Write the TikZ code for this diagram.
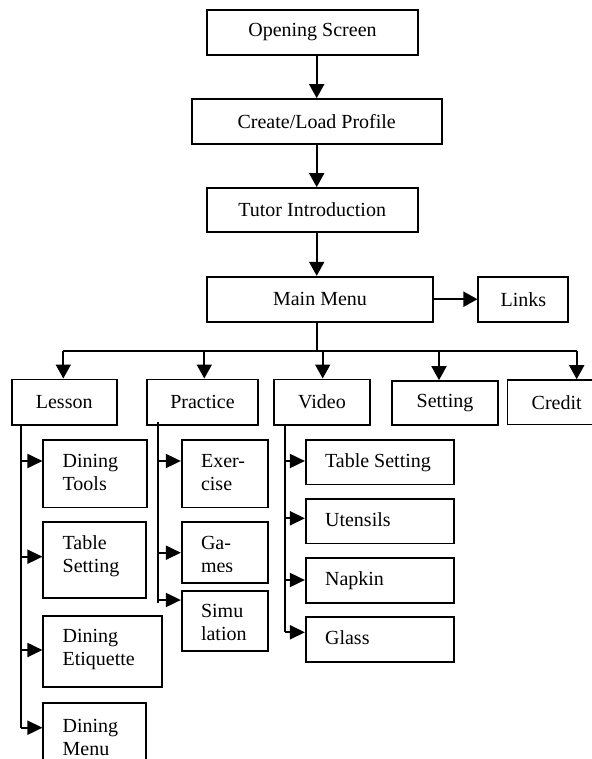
\documentclass[tikz,border=0pt]{standalone}
\usepackage{fontspec}
\setmainfont{Liberation Serif}
\usetikzlibrary{arrows.meta,calc}
\newcommand{\diafont}{\fontsize{20}{23}\selectfont}
\newcommand{\twol}[2]{\begin{tabular}[t]{@{}l@{}}#1\\#2\end{tabular}}
\begin{document}
\begin{tikzpicture}[x=1pt,y=-1pt,
  box/.style={draw, line width=1.7pt, inner sep=0pt, font=\diafont},
  ln/.style={line width=1.9pt},
  arr/.style={line width=1.9pt, -{Triangle[length=14pt,width=15pt]}},
  arrs/.style={line width=1.9pt, -{Triangle[length=15pt,width=14pt]}},
  lbl/.style={inner sep=0pt, anchor=base west, font=\diafont}]
\useasboundingbox (0,0) rectangle (591,759);
% top chain
\node[box, minimum width=211pt, minimum height=45pt] (open) at (312.5,32.5) {Opening Screen};
\node[box, minimum width=250pt, minimum height=45pt] (create) at (316.7,121.5) {Create/Load Profile};
\node[box, minimum width=211pt, minimum height=44pt] (tutor) at (312.2,210) {Tutor Introduction};
\node[box, minimum width=226.6pt, minimum height=45pt] (main) at (320,299.2) {Main Menu};
\node[box, minimum width=90pt, minimum height=45pt] (links) at (523.3,299.2) {Links};
% second level
\node[box, minimum width=105pt, minimum height=45.7pt] (lesson) at (64.2,402.2) {Lesson};
\node[box, minimum width=111.6pt, minimum height=45.7pt] (practice) at (202.5,402.2) {Practice};
\node[box, minimum width=96pt, minimum height=45.7pt] (video) at (322,402.2) {Video};
\node[box, minimum width=106.6pt, minimum height=44pt] (setting) at (445,403) {Setting};
\node[box, minimum width=98.7pt, minimum height=44.3pt] (credit) at (556.7,402.2) {Credit};
% lesson children
\node[box, minimum width=104pt, minimum height=67.3pt] (tools) at (95.3,473.7) {};
\node[box, minimum width=102.4pt, minimum height=75.4pt] (ltable) at (94.5,560) {};
\node[box, minimum width=119pt, minimum height=71.6pt] (etiq) at (102.8,651.5) {};
\node[box, minimum width=102.4pt, minimum height=77.4pt] (menu) at (94.5,741.4) {};
% practice children
\node[box, minimum width=86pt, minimum height=67.3pt] (exer) at (224.7,473.7) {};
\node[box, minimum width=86pt, minimum height=60.4pt] (games) at (224.7,552.5) {};
\node[box, minimum width=86pt, minimum height=60.3pt] (simu) at (224.7,620.9) {};
% video children
\node[box, minimum width=148.3pt, minimum height=44.3pt] (vtable) at (379.9,462.2) {};
\node[box, minimum width=148.3pt, minimum height=44.3pt] (uten) at (379.9,521.2) {};
\node[box, minimum width=148.3pt, minimum height=44.4pt] (napkin) at (379.9,580.5) {};
\node[box, minimum width=148.3pt, minimum height=44.4pt] (glass) at (379.9,639.5) {};
% labels of children
\node[lbl] (tools-t) at ($(tools.north west)+(20,28)$) {\twol{Dining}{Tools}};
\node[lbl] (ltable-t) at ($(ltable.north west)+(20,28)$) {\twol{Table}{Setting}};
\node[lbl] (etiq-t) at ($(etiq.north west)+(20,28)$) {\twol{Dining}{Etiquette}};
\begin{scope}
  \clip (40,700) rectangle (150,755);
  \node[lbl] (menu-t) at ($(menu.north west)+(20,31)$) {\twol{Dining}{Menu}};
\end{scope}
\node[lbl] (exer-t) at ($(exer.north west)+(20,28)$) {\twol{Exer-}{cise}};
\begin{scope}
  \clip (181.7,520) rectangle (267.7,571);
  \node[lbl] (games-t) at ($(games.north west)+(20,28)$) {\twol{Ga-}{mes}};
\end{scope}
\node[lbl] (simu-t) at ($(simu.north west)+(20,28)$) {\twol{Simu}{lation}};
\node[lbl] (vtable-t) at ($(vtable.north west)+(20,28.5)$) {Table Setting};
\node[lbl] (uten-t) at ($(uten.north west)+(20,28.5)$) {Utensils};
\node[lbl] (napkin-t) at ($(napkin.north west)+(20,28.5)$) {Napkin};
\node[lbl] (glass-t) at ($(glass.north west)+(20,28.5)$) {Glass};
% spine
\coordinate (spine) at (316.7,0);
\coordinate (bus) at (0,350.7);
\draw[arr] (open.south -| spine) -- (create.north -| spine);
\draw[arr] (create.south -| spine) -- (tutor.north -| spine);
\draw[arr] (tutor.south -| spine) -- (main.north -| spine);
\draw[arr] (main.east) -- (links.west);
\draw[ln] (main.south -| spine) -- (spine |- bus);
\coordinate (bl) at (63.3,350.7);
\coordinate (bp) at (204.3,350.7);
\coordinate (bv) at (322.7,350.7);
\coordinate (bs) at (439,350.7);
\coordinate (bc) at (576.7,350.7);
\draw[ln] (bl) -- (bc);
\draw[arr] (bl) -- (bl |- lesson.north);
\draw[arr] (bp) -- (bp |- practice.north);
\draw[arr] (bv) -- (bv |- video.north);
\draw[arr] (bs) -- (bs |- setting.north);
\draw[arr] (bc) -- (bc |- credit.north);
% lesson trunk
\coordinate (lcol) at (21,425);
\coordinate (l1) at (21,461);
\coordinate (l2) at (21,556.7);
\coordinate (l3) at (21,650);
\coordinate (l4) at (21,727.7);
\draw[ln] (lcol |- lesson.south) -- (l4);
\draw[arrs] (l1) -- (l1 -| tools.west);
\draw[arrs] (l2) -- (l2 -| ltable.west);
\draw[arrs] (l3) -- (l3 -| etiq.west);
\draw[arrs] (l4) -- (l4 -| menu.west);
% practice trunk
\coordinate (pcol) at (158.3,421.7);
\coordinate (p1) at (158.3,461);
\coordinate (p2) at (158.3,552.7);
\coordinate (p3) at (158.3,600);
\coordinate (pend) at (158.3,603.3);
\draw[ln] (pcol) -- (pend);
\draw[arrs] (p1) -- (p1 -| exer.west);
\draw[arrs] (p2) -- (p2 -| games.west);
\draw[arrs] (p3) -- (p3 -| simu.west);
% video trunk
\coordinate (vcol) at (285,425);
\coordinate (v1) at (285,461);
\coordinate (v2) at (285,518.3);
\coordinate (v3) at (285,580);
\coordinate (v4) at (285,632.3);
\draw[ln] (vcol |- video.south) -- (v4);
\draw[arrs] (v1) -- (v1 -| vtable.west);
\draw[arrs] (v2) -- (v2 -| uten.west);
\draw[arrs] (v3) -- (v3 -| napkin.west);
\draw[arrs] (v4) -- (v4 -| glass.west);
\end{tikzpicture}
\end{document}
